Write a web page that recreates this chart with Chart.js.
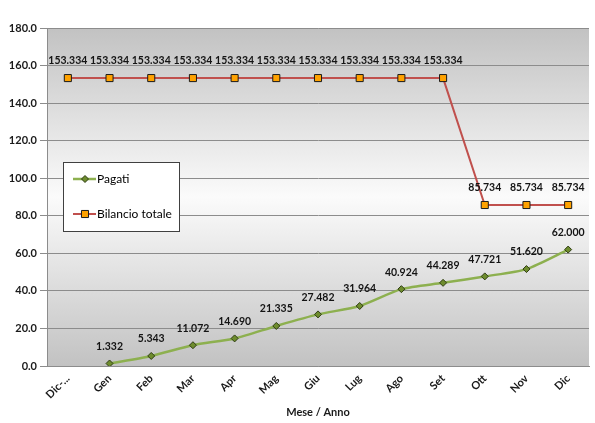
<!DOCTYPE html>
<html>
<head>
<meta charset="utf-8">
<script src="https://cdn.jsdelivr.net/npm/chart.js@4.4.1/dist/chart.umd.min.js"></script>
<style>
  html, body { margin: 0; padding: 0; background: #ffffff; }
  #wrap { width: 595px; height: 423px; position: relative; }
</style>
</head>
<body>
<div id="wrap"><canvas id="c" width="595" height="423"></canvas></div>
<script>
// Months on the category axis
const categories = ['Dic-...', 'Gen', 'Feb', 'Mar', 'Apr', 'Mag', 'Giu', 'Lug', 'Ago', 'Set', 'Ott', 'Nov', 'Dic'];
// Cumulative payments
const pagati = [null, 1.332, 5.343, 11.072, 14.690, 21.335, 27.482, 31.964, 40.924, 44.289, 47.721, 51.620, 62.000];
// Total budget
const bilancioTotale = [153.334, 153.334, 153.334, 153.334, 153.334, 153.334, 153.334, 153.334, 153.334, 153.334, 85.734, 85.734, 85.734];
// Value axis
const yMin = 0;
const yMax = 180;
const yStep = 20;

const FONT = 'Lato, "Open Sans", sans-serif';

// Shaded plot area: grey at the edges, light in the middle
const plotBackground = {
  id: 'plotBackground',
  beforeDraw(chart) {
    const { ctx, chartArea: a } = chart;
    const g = ctx.createLinearGradient(0, a.top, 0, a.bottom);
    g.addColorStop(0, '#c2c2c2');
    g.addColorStop(0.5, '#fbfbfb');
    g.addColorStop(1, '#c2c2c2');
    ctx.save();
    ctx.fillStyle = g;
    ctx.fillRect(a.left, a.top, a.right - a.left, a.bottom - a.top);
    ctx.restore();
  }
};

// Value labels above every point
const pointLabels = {
  id: 'pointLabels',
  afterDatasetsDraw(chart) {
    const { ctx } = chart;
    ctx.save();
    ctx.font = 'bold 10.5px ' + FONT;
    ctx.fillStyle = '#141414';
    ctx.textAlign = 'center';
    ctx.textBaseline = 'middle';
    chart.data.datasets.forEach((ds, i) => {
      const meta = chart.getDatasetMeta(i);
      meta.data.forEach((pt, j) => {
        const v = ds.data[j];
        if (v === null || v === undefined) return;
        ctx.fillText(v.toFixed(3), pt.x, pt.y - 17);
      });
    });
    ctx.restore();
  }
};

// Framed legend inside the plot area
const boxedLegend = {
  id: 'boxedLegend',
  afterDraw(chart) {
    const { ctx } = chart;
    const x = 63, y = 162, w = 116, h = 69;
    ctx.save();
    ctx.fillStyle = '#ffffff';
    ctx.fillRect(x, y, w, h);
    ctx.strokeStyle = '#404040';
    ctx.lineWidth = 1;
    ctx.strokeRect(x + 0.5, y + 0.5, w, h);
    const rows = [y + 17, y + 52];
    chart.data.datasets.forEach((ds, i) => {
      const ry = rows[i];
      ctx.strokeStyle = ds.borderColor;
      ctx.lineWidth = ds.borderWidth;
      ctx.beginPath();
      ctx.moveTo(x + 10, ry);
      ctx.lineTo(x + 33, ry);
      ctx.stroke();
      ctx.fillStyle = ds.pointBackgroundColor;
      ctx.strokeStyle = ds.pointBorderColor;
      ctx.lineWidth = ds.pointBorderWidth;
      Chart.helpers.drawPoint(ctx, { pointStyle: ds.pointStyle, radius: ds.pointRadius, borderWidth: ds.pointBorderWidth, rotation: 0 }, x + 22, ry);
      ctx.fillStyle = '#000000';
      ctx.font = '12px ' + FONT;
      ctx.textAlign = 'left';
      ctx.textBaseline = 'middle';
      ctx.fillText(ds.label, x + 34, ry);
    });
    ctx.restore();
  }
};

new Chart(document.getElementById('c'), {
  type: 'line',
  data: {
    labels: categories,
    datasets: [
      {
        label: 'Pagati',
        data: pagati,
        borderColor: '#8db04f',
        borderWidth: 2.5,
        tension: 0.25,
        pointStyle: 'rectRot',
        pointRadius: 3.5,
        pointBackgroundColor: '#6e8c2e',
        pointBorderColor: '#2f3d14',
        pointBorderWidth: 1
      },
      {
        label: 'Bilancio totale',
        data: bilancioTotale,
        borderColor: '#c0504d',
        borderWidth: 2,
        tension: 0,
        pointStyle: 'rect',
        pointRadius: 5,
        pointBackgroundColor: '#ffa200',
        pointBorderColor: '#1a1a1a',
        pointBorderWidth: 1
      }
    ]
  },
  options: {
    responsive: false,
    animation: false,
    layout: { padding: { top: 28, right: 0, left: 0, bottom: 4 } },
    plugins: {
      legend: { display: false },
      tooltip: { enabled: false }
    },
    scales: {
      x: {
        offset: true,
        grid: { display: false, drawTicks: false },
        border: { color: '#8c8c8c', width: 1 },
        ticks: {
          minRotation: 45,
          maxRotation: 45,
          padding: 6,
          color: '#1a1a1a',
          font: { family: FONT, size: 11, weight: 'bold' }
        },
        title: {
          display: true,
          text: 'Mese / Anno',
          color: '#1a1a1a',
          padding: { top: 0, bottom: 0 },
          font: { family: FONT, size: 11, weight: 'bold' }
        },
        afterFit(scale) { scale.height = 53; }
      },
      y: {
        min: yMin,
        max: yMax,
        grid: { color: '#8c8c8c', lineWidth: 1, tickLength: 7, drawTicks: true },
        border: { color: '#8c8c8c', width: 1 },
        ticks: {
          stepSize: yStep,
          padding: 3,
          color: '#1a1a1a',
          font: { family: FONT, size: 11, weight: 'bold' },
          callback: v => Number(v).toFixed(1)
        },
        afterFit(scale) { scale.width = 47; }
      }
    }
  },
  plugins: [plotBackground, pointLabels, boxedLegend]
});
</script>
</body>
</html>
